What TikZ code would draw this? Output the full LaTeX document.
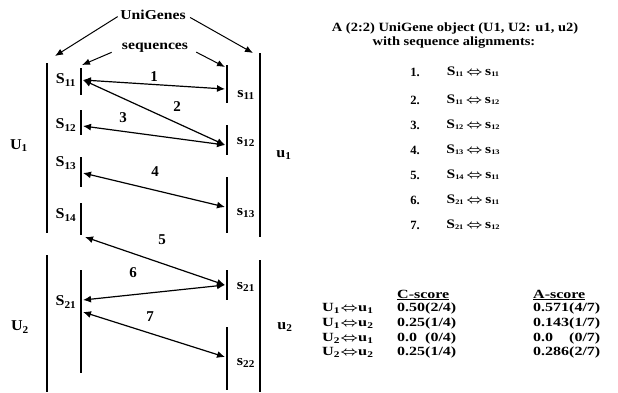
\documentclass[tikz,border=0pt]{standalone}
\usepackage{fontspec}
\setmainfont{Liberation Serif}
\usetikzlibrary{arrows.meta}
\newcommand{\ssub}[2]{#1\textsubscript{#2}}
\newcommand{\tsub}[2]{#1{\fontsize{7}{8}\selectfont\raisebox{-0.25ex}{#2}}}
\newcommand{\sx}[2]{\scalebox{#1}[1]{#2}}
\newcommand{\dbl}{\,{\boldmath$\Leftrightarrow$}\,}
\newcommand{\eqv}{{\boldmath$\Leftrightarrow$}}
\begin{document}
\begin{tikzpicture}[x=1pt,y=-1pt,
  lbl/.style={font=\fontsize{15}{17}\selectfont\bfseries, inner sep=0pt},
  head/.style={font=\fontsize{13.6}{15}\selectfont\bfseries, inner sep=0pt},
  txt/.style={font=\fontsize{12.6}{14}\selectfont\bfseries, inner sep=0pt},
  lst/.style={font=\fontsize{13}{14}\selectfont\bfseries, inner sep=0pt},
  tab/.style={font=\fontsize{12.5}{14}\selectfont\bfseries, inner sep=0pt, anchor=west},
  bar/.style={line width=2.8pt},
  seqbar/.style={line width=1.2pt},
  align/.style={line width=1.2pt, {Latex[length=8pt,width=7pt]}-{Latex[length=8pt,width=7pt]}},
  point/.style={line width=1pt, -{Latex[length=8pt,width=6.5pt]}}]
\useasboundingbox (0,0) rectangle (618,392);

% UniGene bars
\draw[bar] (47,63) -- (47,233);
\draw[bar] (47,255) -- (47,392);
\draw[bar] (260,53) -- (260,237);
\draw[bar] (260,260) -- (260,392);

% sequence bars
\draw[seqbar] (81,68) -- (81,95);
\draw[seqbar] (81,110) -- (81,135);
\draw[seqbar] (81,157) -- (81,187);
\draw[seqbar] (81,203) -- (81,235);
\draw[seqbar] (81,270) -- (81,373);
\draw[seqbar] (227,65) -- (227,103);
\draw[seqbar] (227,125) -- (227,155);
\draw[seqbar] (227,177) -- (227,233);
\draw[seqbar] (227,270) -- (227,300);
\draw[seqbar] (227,327) -- (227,390);

% titles
\node[head] (ug) at (153,15) {\sx{1.15}{UniGenes}};
\node[head] (sq) at (155,48) {\sx{1.15}{sequences}};
\coordinate (ugL) at (55,56);
\coordinate (ugR) at (253,53);
\coordinate (sqL) at (82,65);
\coordinate (sqR) at (225,67);
\draw[point, shorten <=3pt] (ug.west) -- (ugL);
\draw[point, shorten <=5pt] (ug.east) -- (ugR);
\draw[point, shorten <=11pt] (sq.west) -- (sqL);
\draw[point, shorten <=9pt] (sq.east) -- (sqR);

% labels
\node[lbl] (U1) at (19,146) {\sx{1.07}{\ssub{U}{1}}};
\node[lbl] (U2) at (20,327) {\sx{1.07}{\ssub{U}{2}}};
\node[lbl] (u1) at (284,155) {\sx{1.07}{\ssub{u}{1}}};
\node[lbl] (u2) at (285,327) {\sx{1.07}{\ssub{u}{2}}};
\node[lbl] (S11) at (66,80) {\sx{1.07}{\ssub{S}{11}}};
\node[lbl] (S12) at (66,125) {\sx{1.07}{\ssub{S}{12}}};
\node[lbl] (S13) at (66,163) {\sx{1.07}{\ssub{S}{13}}};
\node[lbl] (S14) at (66,215) {\sx{1.07}{\ssub{S}{14}}};
\node[lbl] (S21) at (66,302) {\sx{1.07}{\ssub{S}{21}}};
\node[lbl] (s11) at (246,95) {\sx{1.07}{\ssub{s}{11}}};
\node[lbl] (s12) at (246,142) {\sx{1.07}{\ssub{s}{12}}};
\node[lbl] (s13) at (246,213) {\sx{1.07}{\ssub{s}{13}}};
\node[lbl] (s21) at (246,287) {\sx{1.07}{\ssub{s}{21}}};
\node[lbl] (s22) at (246,363) {\sx{1.07}{\ssub{s}{22}}};

% alignment end points
\coordinate (a1L) at (83,80);   \coordinate (a1R) at (225,89);
\coordinate (a2R) at (225,145);
\coordinate (a3L) at (83,126);  \coordinate (a3R) at (225,145);
\coordinate (a4L) at (83,173);  \coordinate (a4R) at (225,207);
\coordinate (a5L) at (85,237);  \coordinate (a5R) at (225,285);
\coordinate (a6L) at (83,300);
\coordinate (a7L) at (83,312);  \coordinate (a7R) at (225,357);

\draw[align] (a1L) -- (a1R);
\draw[align] (a1L) -- (a2R);
\draw[align] (a3L) -- (a3R);
\draw[align] (a4L) -- (a4R);
\draw[align] (a5L) -- (a5R);
\draw[align] (a6L) -- (a5R);
\draw[align] (a7L) -- (a7R);

\node[lbl] (n1) at (154,77) {1};
\node[lbl] (n2) at (177,107) {2};
\node[lbl] (n3) at (123,118) {3};
\node[lbl] (n4) at (155,172) {4};
\node[lbl] (n5) at (162,240) {5};
\node[lbl] (n6) at (133,273) {6};
\node[lbl] (n7) at (150,317) {7};

% right description
\node[txt] (cap1) at (455,28) {\sx{1.15}{A (2:2) UniGene object (U1, U2: u1, u2)}};
\node[txt] (cap2) at (454,43) {\sx{1.15}{with sequence alignments:}};

\node[txt] (l1) at (415,72) {1.};  \node[lst] (r1) at (473,72) {\sx{1.2}{\tsub{S}{11}\dbl\tsub{s}{11}}};
\node[txt] (l2) at (415,100) {2.}; \node[lst] (r2) at (473,100) {\sx{1.2}{\tsub{S}{11}\dbl\tsub{s}{12}}};
\node[txt] (l3) at (415,125) {3.}; \node[lst] (r3) at (473,125) {\sx{1.2}{\tsub{S}{12}\dbl\tsub{s}{12}}};
\node[txt] (l4) at (415,150) {4.}; \node[lst] (r4) at (473,150) {\sx{1.2}{\tsub{S}{13}\dbl\tsub{s}{13}}};
\node[txt] (l5) at (415,175) {5.}; \node[lst] (r5) at (473,175) {\sx{1.2}{\tsub{S}{14}\dbl\tsub{s}{11}}};
\node[txt] (l6) at (415,200) {6.}; \node[lst] (r6) at (473,200) {\sx{1.2}{\tsub{S}{21}\dbl\tsub{s}{11}}};
\node[txt] (l7) at (415,225) {7.}; \node[lst] (r7) at (473,225) {\sx{1.2}{\tsub{S}{21}\dbl\tsub{s}{12}}};

% score table
\node[tab] (ch) at (397,295) {\sx{1.28}{\underline{C-score}}};
\node[tab] (ah) at (533,295) {\sx{1.28}{\underline{A-score}}};
\node[tab] (t1) at (322,308) {\sx{1.3}{\ssub{U}{1}\eqv\ssub{u}{1}}};
\node[tab] (t2) at (322,323) {\sx{1.3}{\ssub{U}{1}\eqv\ssub{u}{2}}};
\node[tab] (t3) at (322,338) {\sx{1.3}{\ssub{U}{2}\eqv\ssub{u}{1}}};
\node[tab] (t4) at (322,352) {\sx{1.3}{\ssub{U}{2}\eqv\ssub{u}{2}}};
\node[tab] (c1) at (397,308) {\sx{1.28}{0.50(2/4)}};
\node[tab] (c2) at (397,323) {\sx{1.28}{0.25(1/4)}};
\node[tab] (c3) at (397,338) {\sx{1.28}{0.0\ \ (0/4)}};
\node[tab] (c4) at (397,352) {\sx{1.28}{0.25(1/4)}};
\node[tab] (v1) at (533,308) {\sx{1.28}{0.571(4/7)}};
\node[tab] (v2) at (533,323) {\sx{1.28}{0.143(1/7)}};
\node[tab] (v3) at (533,338) {\sx{1.28}{0.0\ \ \ \ (0/7)}};
\node[tab] (v4) at (533,352) {\sx{1.28}{0.286(2/7)}};
\end{tikzpicture}
\end{document}
